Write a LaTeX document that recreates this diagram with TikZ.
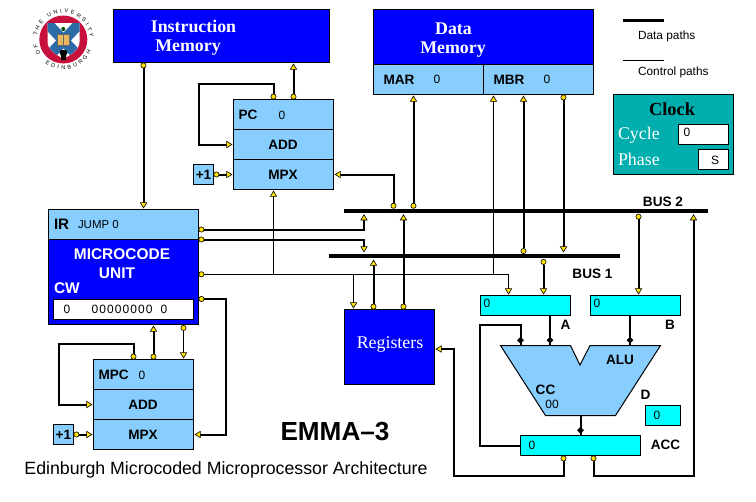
\documentclass[tikz,border=0pt]{standalone}
\usepackage{fontspec}
\setmainfont{Liberation Serif}
\setsansfont{Liberation Sans}
\usetikzlibrary{arrows.meta,decorations.text}
\definecolor{lightreg}{HTML}{87CEFF}
\definecolor{memblue}{HTML}{0000FF}
\definecolor{cyanreg}{HTML}{00FFFF}
\definecolor{clockteal}{HTML}{00AEAE}
\definecolor{tipyellow}{HTML}{FFE000}
\definecolor{crestred}{HTML}{C8103C}
\definecolor{crestblue}{HTML}{2B6CA8}
\definecolor{crestgold}{HTML}{E8B860}
\tikzset{
  sz/.style 2 args={minimum width=#1*0.75pt,minimum height=#2*0.75pt},
  box/.style={draw=black,line width=0.75pt,inner sep=0pt,outer sep=0pt,rectangle},
  memory/.style={box,fill=memblue},
  lightbox/.style={box,fill=lightreg},
  cyanbox/.style={box,fill=cyanreg},
  whitebox/.style={box,fill=white},
  busbar/.style={rectangle,fill=black,inner sep=0pt,outer sep=0pt},
  txt/.style={inner sep=0pt,outer sep=0pt},
  lab/.style={txt,font=\sffamily\bfseries\fontsize{10.2}{12}\selectfont},
  val/.style={txt,font=\sffamily\fontsize{9}{10}\selectfont},
  memtxt/.style={txt,text=white,font=\rmfamily\bfseries\fontsize{13.4}{16}\selectfont},
  wsans/.style={txt,text=white,font=\sffamily\bfseries\fontsize{11.6}{14}\selectfont},
  legend/.style={txt,font=\sffamily\fontsize{8.9}{10}\selectfont},
  dpath/.style={line width=1.5pt,line join=miter},
  cpath/.style={line width=0.75pt},
  dotT/.tip={Circle[length=4.4pt,fill=tipyellow,line width=0.45pt]},
  triT/.tip={Triangle[length=4.6pt,width=5.4pt,fill=tipyellow,line width=0.45pt]},
  diaT/.tip={Diamond[length=5pt,width=5pt,fill=black,line width=0.3pt] Rectangle[length=1.5pt,width=1.5pt,fill=black,line width=0pt]},
}
\begin{document}
\begin{tikzpicture}[x=0.75pt,y=-0.75pt]
\useasboundingbox (0,0) rectangle (756,501);
\fill[white] (0,0) rectangle (756,501);

% ---------- crest
\coordinate (crest) at (63.3,39.5);
\fill[crestred] (crest) circle[radius=24];
\begin{scope}
  \clip (47.5,23) -- (79.5,23) -- (79.5,42) .. controls (79.5,50) and (70,55) .. (63.5,59) .. controls (57,55) and (47.5,50) .. (47.5,42) -- cycle;
  \fill[white] (47,22) rectangle (80,60);
  \draw[crestblue,line width=8pt] (47,23) -- (80,58);
  \draw[crestblue,line width=8pt] (80,23) -- (47,58);
\end{scope}
\fill[crestgold,draw=black!60,line width=0.3pt] (57,34) rectangle (63.3,45);
\fill[crestgold,draw=black!60,line width=0.3pt] (63.3,34) rectangle (69.5,45);
\fill[black!70!green] (63.3,29) circle[radius=2];
\fill[black] (59.5,52) -- (61,50) -- (66,50) -- (67.5,52) -- (66,56) -- (66,60) -- (61,60) -- (61,56) -- cycle;
\path[decorate,decoration={text along path,text align={fit to path},text={|\sffamily\fontsize{4.2}{5}\selectfont|THE UNIVERSITY}}]
  (crest) ++(-172:26.5) arc[start angle=-172,end angle=-5,radius=26.5];
\path[decorate,decoration={text along path,text align=center,text={|\sffamily\fontsize{4.2}{5}\selectfont|O F}}]
  (crest) ++(-212:26.5) arc[start angle=-212,end angle=-190,radius=26.5];
\path[decorate,decoration={text along path,text align={fit to path},text={|\sffamily\fontsize{4.2}{5}\selectfont|EDINBURGH}}]
  (crest) ++(-233:30) arc[start angle=-233,end angle=-338,radius=30];

% ---------- memories
\node[memory,sz={216}{53}] (imem) at (221.5,36) {};
\node[memtxt] (imem1) at (193.5,26.5) {Instruction};
\node[memtxt] (imem2) at (188,47.5) {Memory};
\node[memory,sz={220}{55}] (dmem) at (483.5,37) {};
\node[memtxt] (dmem1) at (453.5,28.3) {Data};
\node[memtxt] (dmem2) at (453,50) {Memory};
\node[lightbox,sz={110}{30}] (mar) at (428.5,79.5) {};
\node[lightbox,sz={110}{30}] (mbr) at (538.5,79.5) {};
\node[lab,anchor=west] (marl) at (383.5,79.5) {MAR};
\node[val] (marv) at (437,79.5) {0};
\node[lab,anchor=west] (mbrl) at (493.5,79.5) {MBR};
\node[val] (mbrv) at (547,79.5) {0};

% ---------- legend
\coordinate (lgA) at (623,20.5);
\coordinate (lgB) at (664,20.5);
\coordinate (lgC) at (623,60.5);
\coordinate (lgD) at (664,60.5);
\draw[line width=2.2pt] (lgA) -- (lgB);
\draw[cpath] (lgC) -- (lgD);
\node[legend,anchor=west] (lg1) at (638,36.5) {Data paths};
\node[legend,anchor=west] (lg2) at (638,72) {Control paths};

% ---------- clock
\node[box,fill=clockteal,sz={120}{80}] (clock) at (673.5,134.5) {};
\node[txt,font=\rmfamily\bfseries\fontsize{13.8}{16}\selectfont] (clockt) at (672,109) {Clock};
\node[txt,text=white,font=\rmfamily\fontsize{13.4}{16}\selectfont,anchor=west] (cyct) at (618,135) {Cycle};
\node[txt,text=white,font=\rmfamily\fontsize{13.4}{16}\selectfont,anchor=west] (phat) at (618,159.5) {Phase};
\node[whitebox,sz={50}{20}] (cyc) at (703.5,134.5) {};
\node[whitebox,sz={30}{20}] (pha) at (713.5,159.5) {};
\node[val] (cycv) at (687,132) {0};
\node[val] (phav) at (715,160) {S};

% ---------- PC
\node[lightbox,sz={100}{30}] (pcreg) at (283.5,114.5) {};
\node[lightbox,sz={100}{30}] (pcadd) at (283.5,144.5) {};
\node[lightbox,sz={100}{30}] (pcmpx) at (283.5,174.5) {};
\node[lab,anchor=west] (pcl) at (238.5,115) {PC};
\node[val] (pcv) at (282,115) {0};
\node[lab] (pcaddl) at (283,145) {ADD};
\node[lab] (pcmpxl) at (283,175) {MPX};
\node[lightbox,sz={20}{20},font=\sffamily\bfseries\fontsize{10.2}{12}\selectfont] (inca) at (203.5,174.5) {+1};

% ---------- microcode unit
\node[memory,sz={150}{85}] (mcu) at (123.5,282) {};
\node[lightbox,sz={150}{30}] (ir) at (123.5,224.5) {};
\node[lab,anchor=west,font=\sffamily\bfseries\fontsize{11.4}{14}\selectfont] (irl) at (54,224) {IR};
\node[val,anchor=west,font=\sffamily\fontsize{8.6}{10}\selectfont] (irv) at (78,224.5) {JUMP 0};
\node[wsans] (mcu1) at (122,254) {MICROCODE};
\node[wsans] (mcu2) at (117,273) {UNIT};
\node[wsans,anchor=west] (cwl) at (54,288) {CW};
\node[whitebox,sz={140}{20}] (cw) at (123.5,309.5) {};
\node[val] (cw1) at (67,309.5) {0};
\node[val,font=\sffamily\fontsize{9}{10}\selectfont\addfontfeature{LetterSpace=9}] (cw2) at (122,309.5) {00000000};
\node[val] (cw3) at (164,309.5) {0};

% ---------- MPC
\node[lightbox,sz={100}{30}] (mpc) at (143.5,374.5) {};
\node[lightbox,sz={100}{30}] (madd) at (143.5,404.5) {};
\node[lightbox,sz={100}{30}] (mmpx) at (143.5,434.5) {};
\node[lab,anchor=west] (mpcl) at (98.5,375) {MPC};
\node[val] (mpcv) at (142,375) {0};
\node[lab] (maddl) at (143,405) {ADD};
\node[lab] (mmpxl) at (143,435) {MPX};
\node[lightbox,sz={20}{20},font=\sffamily\bfseries\fontsize{10.2}{12}\selectfont] (incb) at (63.5,434.5) {+1};

% ---------- buses
\node[busbar,sz={364}{4}] (bus2) at (526,210.7) {};
\node[busbar,sz={291}{4}] (bus1) at (474.5,256) {};
\node[lab] (bus2l) at (663,202) {BUS 2};
\node[lab] (bus1l) at (592.5,274) {BUS 1};

% ---------- registers block
\node[memory,sz={90}{75}] (regs) at (389.5,347) {};
\node[txt,text=white,font=\rmfamily\fontsize{13.4}{16}\selectfont] (regl) at (390,344.5) {Registers};

% ---------- ALU and data registers
\node[cyanbox,sz={90}{20}] (areg) at (525.5,305.5) {};
\node[cyanbox,sz={90}{20}] (breg) at (635.5,305.5) {};
\node[val] (av) at (487,303.5) {0};
\node[val] (bv) at (597,303.5) {0};
\node[lab] (al) at (565.5,325) {A};
\node[lab] (bl) at (670,324.5) {B};
\node[txt,sz={160}{70}] (alu) at (580.5,380.5) {};
\draw[fill=lightreg,line width=0.75pt,line join=miter]
  (alu.north west) -- ([shift={(70,0)}]alu.north west) -- ([shift={(79.5,19.5)}]alu.north west)
  -- ([shift={(89.5,0)}]alu.north west) -- (alu.north east)
  -- ([shift={(-45,0)}]alu.south east) -- ([shift={(45,0)}]alu.south west) -- cycle;
\node[lab] (alul) at (620,360) {ALU};
\node[lab] (ccl) at (545.5,390) {CC};
\node[val] (ccv) at (552,404.5) {00};
\node[lab] (dl) at (645.5,394.5) {D};
\node[cyanbox,sz={35}{20}] (dreg) at (663,415.5) {};
\node[val] (dv) at (657,415.5) {0};
\node[cyanbox,sz={120}{20}] (acc) at (580.5,445.5) {};
\node[val] (accv) at (532,445) {0};
\node[lab] (accl) at (665.5,445) {ACC};

% ---------- titles
\node[txt,font=\sffamily\bfseries\fontsize{19.6}{24}\selectfont] (title) at (335,432) {EMMA–3};
\node[txt,font=\sffamily\fontsize{13.3}{16}\selectfont] (subtitle) at (226,470) {Edinburgh Microcoded Microprocessor Architecture};

% ---------- control-line junctions
\coordinate (j1) at (273.5,274.3);
\coordinate (j2) at (353.5,274.3);
\coordinate (j3) at (493.5,274.3);

% ---------- connectors: data paths
\draw[dpath,dotT-triT] ([shift={(30,0)}]imem.south west) -- ([shift={(95,-1)}]ir.north west);
\draw[dpath,dotT-triT] ([shift={(60,0)}]pcreg.north west) -- ([shift={(180,1)}]imem.south west);
\draw[dpath,dotT-triT] ([shift={(40,0)}]pcreg.north west) -- ++(0,-15.5) -- ++(-74.5,0) |- ([shift={(-1,0)}]pcadd.west);
\draw[dpath,dotT-triT] (inca.east) -- ([shift={(-1,0)}]pcmpx.west);
\draw[dpath,dotT-triT] ([shift={(49.5,0)}]bus2.north west) |- ([shift={(1,0)}]pcmpx.east);
\draw[dpath,dotT-triT] ([shift={(69.5,0)}]bus2.north west) -- ([shift={(40,1)}]mar.south west);
\draw[dpath,dotT-triT] ([shift={(59,0)}]regs.north west) -- ([shift={(59.5,1.5)}]bus2.south west);
\draw[dpath,dotT-triT] ([shift={(29,0)}]regs.north west) -- ([shift={(44.5,1.5)}]bus1.south west);
\draw[dpath,dotT-triT] ([shift={(0,20)}]ir.north east) -| ([shift={(20,1.5)}]bus2.south west);
\draw[dpath,dotT-triT] (ir.south east) -| ([shift={(35,-1.5)}]bus1.north west);
\draw[dpath,dotT-triT] ([shift={(194.5,0)}]bus1.north west) -- ([shift={(40,1)}]mbr.south west);
\draw[dpath,dotT-triT] ([shift={(80,0)}]mbr.south west) -- ([shift={(234.5,-1.5)}]bus1.north west);
\draw[dpath,dotT-triT] ([shift={(214.5,1)}]bus1.south west) -- ([shift={(63,-1)}]areg.north west);
\draw[dpath,dotT-triT] ([shift={(294.5,1)}]bus2.south west) -- ([shift={(48,-1)}]breg.north west);
\draw[dpath,dotT-triT] ([shift={(73,0)}]acc.south west) -- ++(0,20.5) -| ([shift={(349.5,1.5)}]bus2.south west);
\draw[dpath,dotT-triT] ([shift={(43,0)}]acc.south west) -- ++(0,20.5) -- ++(-109.5,0) |- ([shift={(1,-35.5)}]regs.south east);
\draw[dpath,-diaT] (acc.west) -- ++(-40.5,0) -- ++(0,-120.5) -| ([shift={(20,0)}]alu.north west);
\draw[dpath,-diaT] ([shift={(69.5,0)}]areg.south west) -- ([shift={(49.5,0)}]alu.north west);
\draw[dpath,-diaT] ([shift={(39.5,0)}]breg.south west) -- ([shift={(129.5,0)}]alu.north west);
\draw[dpath,-diaT] (alu.south) -- (acc.north);
\draw[dpath,dotT-triT] ([shift={(0,59.5)}]mcu.north east) -- ++(27,0) |- ([shift={(1,0)}]mmpx.east);
\draw[dpath,dotT-triT] ([shift={(60,0)}]mpc.north west) -- ([shift={(105,1)}]mcu.south west);
\draw[dpath,dotT-triT] ([shift={(40,0)}]mpc.north west) -- ++(0,-15.5) -- ++(-74.5,0) |- ([shift={(-1,0)}]madd.west);
\draw[dpath,dotT-triT] (incb.east) -- ([shift={(-1,0)}]mmpx.west);

% ---------- connectors: control paths
\draw[cpath,dotT-triT] ([shift={(0,34.8)}]mcu.north east) -| ([shift={(28,-1)}]areg.north west);
\draw[cpath,-triT] (j1) -- ([shift={(40,1)}]pcmpx.south west);
\draw[cpath,-triT] (j2) -- ([shift={(9,-1)}]regs.north west);
\draw[cpath,-triT] (j3) -- ([shift={(10,1)}]mbr.south west);
\draw[cpath,dotT-triT] ([shift={(135,0.5)}]mcu.south west) -- ([shift={(90,-1)}]mpc.north west);
\end{tikzpicture}
\end{document}
